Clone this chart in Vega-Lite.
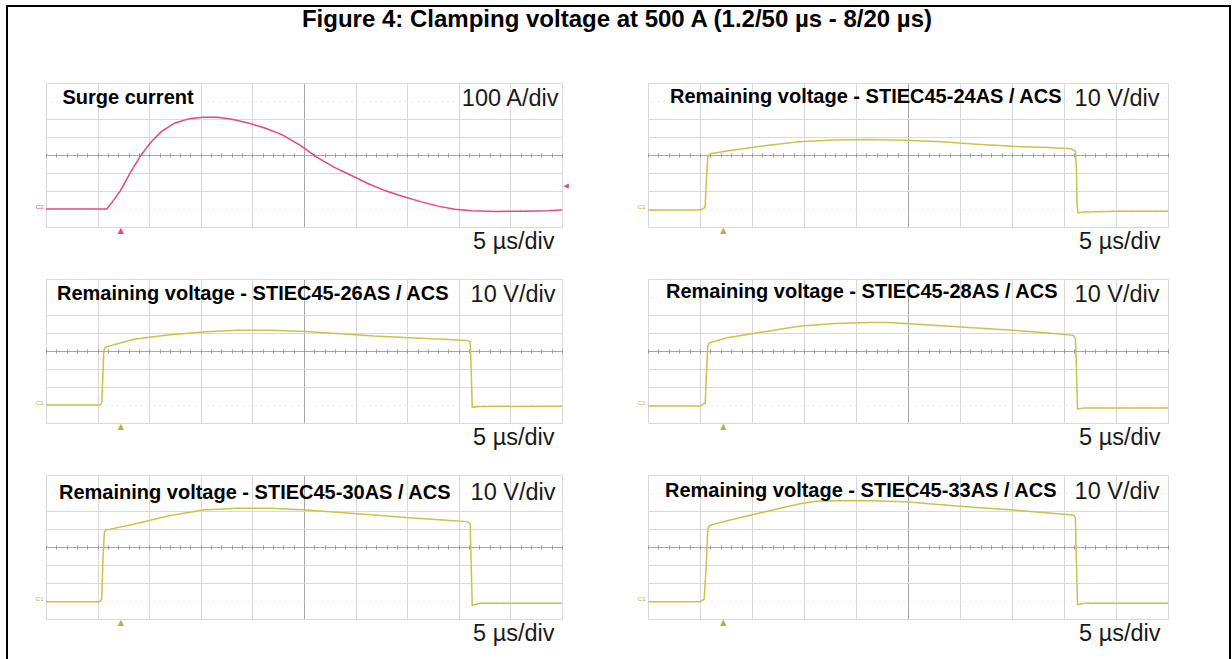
{
  "$schema": "https://vega.github.io/schema/vega-lite/v6.json",
  "background": "white",
  "padding": {"left": 6, "top": 5, "right": 0, "bottom": 0},
  "datasets": {
    "surge": [
      {"t": 0, "i": 0}, {"t": 5.9, "i": 0}, {"t": 6.5, "i": 45}, {"t": 7.2, "i": 101}, {"t": 8.2, "i": 205}, {"t": 9.2, "i": 299}, {"t": 10.2, "i": 374}, {"t": 11.2, "i": 431}, {"t": 12.5, "i": 478}, {"t": 13.9, "i": 502}, {"t": 15.2, "i": 510}, {"t": 16.6, "i": 510}, {"t": 17.9, "i": 500}, {"t": 19.6, "i": 478}, {"t": 21.2, "i": 450}, {"t": 22.9, "i": 412}, {"t": 24.6, "i": 355}, {"t": 26.2, "i": 290}, {"t": 27.9, "i": 233}, {"t": 29.6, "i": 186}, {"t": 31.3, "i": 139}, {"t": 32.9, "i": 101}, {"t": 34.6, "i": 69}, {"t": 36.3, "i": 41}, {"t": 38, "i": 16}, {"t": 39.6, "i": -2}, {"t": 41.3, "i": -10}, {"t": 43.6, "i": -14}, {"t": 46, "i": -12}, {"t": 48.7, "i": -10}, {"t": 50, "i": -6}
    ],
    "v24": [
      {"t": 0, "v": -0.5}, {"t": 5.0, "v": -0.5}, {"t": 5.4, "v": 0.5}, {"t": 5.5, "v": 1.5}, {"t": 5.6, "v": 15}, {"t": 5.75, "v": 29}, {"t": 6.0, "v": 30.7}, {"t": 7.6, "v": 32.2}, {"t": 11, "v": 35}, {"t": 14.5, "v": 37.4}, {"t": 17.9, "v": 38.4}, {"t": 21.3, "v": 38.6}, {"t": 24.8, "v": 38.2}, {"t": 28.2, "v": 37.3}, {"t": 31.6, "v": 36}, {"t": 35.1, "v": 34.8}, {"t": 38.5, "v": 34.1}, {"t": 40.7, "v": 33.5}, {"t": 41.1, "v": 32.2}, {"t": 41.2, "v": 21}, {"t": 41.25, "v": 2.5}, {"t": 41.35, "v": -2.2}, {"t": 41.9, "v": -1.6}, {"t": 45.4, "v": -1.3}, {"t": 50, "v": -1.3}
    ],
    "v26": [
      {"t": 0, "v": 0}, {"t": 5.2, "v": 0}, {"t": 5.4, "v": 1}, {"t": 5.5, "v": 15}, {"t": 5.6, "v": 30}, {"t": 5.75, "v": 32.2}, {"t": 8.5, "v": 36.5}, {"t": 11.8, "v": 38.9}, {"t": 15.2, "v": 40.5}, {"t": 18.5, "v": 41.5}, {"t": 21.8, "v": 41.5}, {"t": 25.2, "v": 40.9}, {"t": 28.5, "v": 39.6}, {"t": 31.8, "v": 38.3}, {"t": 35.2, "v": 37.4}, {"t": 38.5, "v": 36.5}, {"t": 40.8, "v": 35.9}, {"t": 41.1, "v": 35}, {"t": 41.2, "v": 20}, {"t": 41.3, "v": -1.3}, {"t": 42, "v": -0.8}, {"t": 50, "v": -0.7}
    ],
    "v28": [
      {"t": 0, "v": -0.5}, {"t": 5.0, "v": -0.5}, {"t": 5.5, "v": 1}, {"t": 5.6, "v": 15}, {"t": 5.75, "v": 33}, {"t": 5.9, "v": 34.5}, {"t": 7.6, "v": 37.4}, {"t": 11.05, "v": 40.6}, {"t": 14.5, "v": 43.8}, {"t": 17.9, "v": 45.3}, {"t": 21.35, "v": 45.8}, {"t": 23.1, "v": 45.9}, {"t": 24.8, "v": 45.3}, {"t": 28.2, "v": 44}, {"t": 31.6, "v": 42.8}, {"t": 35.1, "v": 41.5}, {"t": 38.5, "v": 40}, {"t": 40.9, "v": 38.7}, {"t": 41.1, "v": 37}, {"t": 41.2, "v": 20}, {"t": 41.3, "v": -2.2}, {"t": 42, "v": -1.6}, {"t": 50, "v": -1.6}
    ],
    "v30": [
      {"t": 0, "v": -0.4}, {"t": 5.2, "v": -0.4}, {"t": 5.4, "v": 1}, {"t": 5.5, "v": 20}, {"t": 5.65, "v": 38}, {"t": 5.8, "v": 39.4}, {"t": 8.5, "v": 42.6}, {"t": 11.8, "v": 47.2}, {"t": 15.2, "v": 50.6}, {"t": 18.5, "v": 51.5}, {"t": 21.8, "v": 51.5}, {"t": 25.2, "v": 50.6}, {"t": 28.5, "v": 49.1}, {"t": 31.8, "v": 47.8}, {"t": 35.2, "v": 46.3}, {"t": 38.5, "v": 45}, {"t": 40.8, "v": 44.1}, {"t": 41.1, "v": 43}, {"t": 41.2, "v": 20}, {"t": 41.3, "v": -2.4}, {"t": 42, "v": -1.3}, {"t": 50, "v": -1.3}
    ],
    "v33": [
      {"t": 0, "v": -0.4}, {"t": 5.0, "v": -0.4}, {"t": 5.4, "v": 1}, {"t": 5.6, "v": 20}, {"t": 5.75, "v": 40}, {"t": 5.9, "v": 41.9}, {"t": 7.6, "v": 44.6}, {"t": 11.05, "v": 49.3}, {"t": 14.5, "v": 53.9}, {"t": 16.2, "v": 55.4}, {"t": 17.9, "v": 55.7}, {"t": 21.35, "v": 55.7}, {"t": 24.8, "v": 55.2}, {"t": 28.2, "v": 53.5}, {"t": 31.6, "v": 52}, {"t": 35.1, "v": 50.6}, {"t": 38.5, "v": 48.9}, {"t": 40.9, "v": 47.8}, {"t": 41.1, "v": 46}, {"t": 41.2, "v": 20}, {"t": 41.3, "v": -2}, {"t": 42, "v": -1.3}, {"t": 50, "v": -1.3}
    ],
    "figtitle": [
      {"label": "Figure 4: Clamping voltage at 500 A (1.2/50 µs - 8/20 µs)"}
    ]
  },
  "spacing": 0,
  "vconcat": [
    {
      "width": 1225, "height": 2,
      "view": {"fill": "black", "stroke": null},
      "data": {"values": []},
      "mark": {"type": "rule", "opacity": 0},
      "encoding": {}
    },
    {
      "spacing": 27,
      "hconcat": [
        {
          "width": 2, "height": 652,
          "view": {"fill": "black", "stroke": null},
          "data": {"values": []},
          "mark": {"type": "rule", "opacity": 0},
          "encoding": {}
        },
        {
          "spacing": 58,
          "hconcat": [
            {
              "spacing": 51,
              "vconcat": [
                {
                  "width": 1122, "height": 25,
                  "data": {"name": "figtitle"},
                  "mark": {"type": "text", "font": "Liberation Sans", "fontSize": 24, "fontWeight": "bold", "color": "#000", "baseline": "middle", "align": "center", "dx": 10},
                  "encoding": {"text": {"field": "label"}}
                },
                {
                  "spacing": 26,
                  "vconcat": [
                    {
                      "spacing": 86, "bounds": "flush",
                      "hconcat": [
                        {
                          "width": 516, "height": 144,
                          "title": {"text": "Surge current", "anchor": "start", "frame": "group", "offset": -25, "dx": 16.5, "fontSize": 20, "fontWeight": "bold"},
                          "data": {"name": "surge"},
                          "resolve": {"axis": {"x": "independent", "y": "independent"}},
                          "layer": [
                            {
                              "mark": {"type": "line", "opacity": 0},
                              "encoding": {
                                "x": {"field": "t", "type": "quantitative", "scale": {"domain": [0, 50], "nice": false, "zero": false},
                                  "axis": {"orient": "top", "offset": -74, "values": [0,1,2,3,4,5,6,7,8,9,10,11,12,13,14,15,16,17,18,19,20,21,22,23,24,25,26,27,28,29,30,31,32,33,34,35,36,37,38,39,40,41,42,43,44,45,46,47,48,49,50], "grid": false, "ticks": true, "tickSize": 4, "tickColor": "#9a9a9a", "labels": false, "domain": false, "title": null}},
                                "y": {"field": "i", "type": "quantitative", "scale": {"domain": [-100, 700], "nice": false, "zero": false},
                                  "axis": {"orient": "left", "values": [0], "grid": false, "ticks": false, "domain": false, "labels": true, "labelExpr": "'C2'", "labelFont": "Liberation Sans", "labelFontSize": 6, "labelColor": "#e6477f", "labelPadding": 3, "labelBaseline": "bottom", "title": null}}
                              }
                            },
                            {
                              "mark": {"type": "line", "color": "#e6477f", "strokeWidth": 1.5},
                              "encoding": {
                                "x": {"field": "t", "type": "quantitative",
                                  "axis": {"orient": "bottom", "values": [0,5,10,15,20,25,30,35,40,45,50], "grid": true, "gridColor": {"condition": {"test": "datum.value == 25", "value": "#a8a8a8"}, "value": "#d9d9d9"}, "title": "5 µs/div", "titleX": 508, "titleY": 21, "titleAlign": "right", "titleBaseline": "alphabetic", "titleAnchor": "end"}},
                                "y": {"field": "i", "type": "quantitative",
                                  "axis": {"orient": "right", "values": [-100,0,100,200,300,400,500,600,700], "grid": true, "gridColor": {"condition": {"test": "datum.value == 300", "value": "#a8a8a8"}, "value": "#d9d9d9"}, "gridDash": {"condition": {"test": "datum.value == 0 || datum.value == 600", "value": [1, 5]}, "value": []}, "title": "100 A/div", "titleAngle": 0, "titleX": -4, "titleY": 22, "titleAlign": "right", "titleBaseline": "alphabetic"}}
                              }
                            },
                            {
                              "mark": {"type": "line", "opacity": 0},
                              "encoding": {
                                "x": {"field": "t", "type": "quantitative",
                                  "axis": {"orient": "bottom", "values": [7.2], "grid": false, "ticks": false, "domain": false, "labels": true, "labelExpr": "'▲'", "labelFont": "DejaVu Sans", "labelFontSize": 8, "labelColor": "#e6477f", "labelPadding": -1, "title": null}},
                                "y": {"field": "i", "type": "quantitative",
                                  "axis": {"orient": "right", "values": [128], "grid": false, "ticks": false, "domain": false, "labels": true, "labelExpr": "'◀'", "labelFont": "DejaVu Sans", "labelFontSize": 7, "labelColor": "#e6477f", "labelPadding": 1, "title": null}}
                              }
                            }
                          ]
                        },
                        {
                          "width": 520, "height": 144,
                          "title": {"text": "Remaining voltage - STIEC45-24AS / ACS", "anchor": "start", "frame": "group", "offset": -24, "dx": 22, "fontSize": 20, "fontWeight": "bold"},
                          "data": {"name": "v24"},
                          "resolve": {"axis": {"x": "independent", "y": "independent"}},
                          "layer": [
                            {
                              "mark": {"type": "line", "opacity": 0},
                              "encoding": {
                                "x": {"field": "t", "type": "quantitative", "scale": {"domain": [0, 50], "nice": false, "zero": false},
                                  "axis": {"orient": "top", "offset": -74, "values": [0,1,2,3,4,5,6,7,8,9,10,11,12,13,14,15,16,17,18,19,20,21,22,23,24,25,26,27,28,29,30,31,32,33,34,35,36,37,38,39,40,41,42,43,44,45,46,47,48,49,50], "grid": false, "ticks": true, "tickSize": 4, "tickColor": "#9a9a9a", "labels": false, "domain": false, "title": null}},
                                "y": {"field": "v", "type": "quantitative", "scale": {"domain": [-10, 70], "nice": false, "zero": false},
                                  "axis": {"orient": "left", "values": [0], "grid": false, "ticks": false, "domain": false, "labels": true, "labelExpr": "'C1'", "labelFont": "Liberation Sans", "labelFontSize": 6, "labelColor": "#b5b03a", "labelPadding": 3, "labelBaseline": "bottom", "title": null}}
                              }
                            },
                            {
                              "mark": {"type": "line", "color": "#c8c44a", "strokeWidth": 1.5},
                              "encoding": {
                                "x": {"field": "t", "type": "quantitative",
                                  "axis": {"orient": "bottom", "values": [0,5,10,15,20,25,30,35,40,45,50], "grid": true, "gridColor": {"condition": {"test": "datum.value == 25", "value": "#a8a8a8"}, "value": "#d9d9d9"}, "title": "5 µs/div", "titleX": 512, "titleY": 21, "titleAlign": "right", "titleBaseline": "alphabetic", "titleAnchor": "end"}},
                                "y": {"field": "v", "type": "quantitative",
                                  "axis": {"orient": "right", "values": [-10,0,10,20,30,40,50,60,70], "grid": true, "gridColor": {"condition": {"test": "datum.value == 30", "value": "#a8a8a8"}, "value": "#d9d9d9"}, "gridDash": {"condition": {"test": "datum.value == 0 || datum.value == 60", "value": [1, 5]}, "value": []}, "title": "10 V/div", "titleAngle": 0, "titleX": -9, "titleY": 22, "titleAlign": "right", "titleBaseline": "alphabetic"}}
                              }
                            },
                            {
                              "mark": {"type": "line", "opacity": 0},
                              "encoding": {
                                "x": {"field": "t", "type": "quantitative",
                                  "axis": {"orient": "bottom", "values": [7.2], "grid": false, "ticks": false, "domain": false, "labels": true, "labelExpr": "'▲'", "labelFont": "DejaVu Sans", "labelFontSize": 8, "labelColor": "#b5b03a", "labelPadding": -1, "title": null}},
                                "y": {"field": "v", "type": "quantitative", "axis": null}
                              }
                            }
                          ]
                        }
                      ]
                    },
                    {
                      "spacing": 86, "bounds": "flush",
                      "hconcat": [
                        {
                          "width": 516, "height": 144,
                          "title": {"text": "Remaining voltage - STIEC45-26AS / ACS", "anchor": "start", "frame": "group", "offset": -24.5, "dx": 11, "fontSize": 20, "fontWeight": "bold"},
                          "data": {"name": "v26"},
                          "resolve": {"axis": {"x": "independent", "y": "independent"}},
                          "layer": [
                            {
                              "mark": {"type": "line", "opacity": 0},
                              "encoding": {
                                "x": {"field": "t", "type": "quantitative", "scale": {"domain": [0, 50], "nice": false, "zero": false},
                                  "axis": {"orient": "top", "offset": -74, "values": [0,1,2,3,4,5,6,7,8,9,10,11,12,13,14,15,16,17,18,19,20,21,22,23,24,25,26,27,28,29,30,31,32,33,34,35,36,37,38,39,40,41,42,43,44,45,46,47,48,49,50], "grid": false, "ticks": true, "tickSize": 4, "tickColor": "#9a9a9a", "labels": false, "domain": false, "title": null}},
                                "y": {"field": "v", "type": "quantitative", "scale": {"domain": [-10, 70], "nice": false, "zero": false},
                                  "axis": {"orient": "left", "values": [0], "grid": false, "ticks": false, "domain": false, "labels": true, "labelExpr": "'C1'", "labelFont": "Liberation Sans", "labelFontSize": 6, "labelColor": "#b5b03a", "labelPadding": 3, "labelBaseline": "bottom", "title": null}}
                              }
                            },
                            {
                              "mark": {"type": "line", "color": "#c8c44a", "strokeWidth": 1.5},
                              "encoding": {
                                "x": {"field": "t", "type": "quantitative",
                                  "axis": {"orient": "bottom", "values": [0,5,10,15,20,25,30,35,40,45,50], "grid": true, "gridColor": {"condition": {"test": "datum.value == 25", "value": "#a8a8a8"}, "value": "#d9d9d9"}, "title": "5 µs/div", "titleX": 508, "titleY": 21, "titleAlign": "right", "titleBaseline": "alphabetic", "titleAnchor": "end"}},
                                "y": {"field": "v", "type": "quantitative",
                                  "axis": {"orient": "right", "values": [-10,0,10,20,30,40,50,60,70], "grid": true, "gridColor": {"condition": {"test": "datum.value == 30", "value": "#a8a8a8"}, "value": "#d9d9d9"}, "gridDash": {"condition": {"test": "datum.value == 0 || datum.value == 60", "value": [1, 5]}, "value": []}, "title": "10 V/div", "titleAngle": 0, "titleX": -7, "titleY": 22, "titleAlign": "right", "titleBaseline": "alphabetic"}}
                              }
                            },
                            {
                              "mark": {"type": "line", "opacity": 0},
                              "encoding": {
                                "x": {"field": "t", "type": "quantitative",
                                  "axis": {"orient": "bottom", "values": [7.2], "grid": false, "ticks": false, "domain": false, "labels": true, "labelExpr": "'▲'", "labelFont": "DejaVu Sans", "labelFontSize": 8, "labelColor": "#b5b03a", "labelPadding": -1, "title": null}},
                                "y": {"field": "v", "type": "quantitative", "axis": null}
                              }
                            }
                          ]
                        },
                        {
                          "width": 520, "height": 144,
                          "title": {"text": "Remaining voltage - STIEC45-28AS / ACS", "anchor": "start", "frame": "group", "offset": -22.5, "dx": 18, "fontSize": 20, "fontWeight": "bold"},
                          "data": {"name": "v28"},
                          "resolve": {"axis": {"x": "independent", "y": "independent"}},
                          "layer": [
                            {
                              "mark": {"type": "line", "opacity": 0},
                              "encoding": {
                                "x": {"field": "t", "type": "quantitative", "scale": {"domain": [0, 50], "nice": false, "zero": false},
                                  "axis": {"orient": "top", "offset": -74, "values": [0,1,2,3,4,5,6,7,8,9,10,11,12,13,14,15,16,17,18,19,20,21,22,23,24,25,26,27,28,29,30,31,32,33,34,35,36,37,38,39,40,41,42,43,44,45,46,47,48,49,50], "grid": false, "ticks": true, "tickSize": 4, "tickColor": "#9a9a9a", "labels": false, "domain": false, "title": null}},
                                "y": {"field": "v", "type": "quantitative", "scale": {"domain": [-10, 70], "nice": false, "zero": false},
                                  "axis": {"orient": "left", "values": [0], "grid": false, "ticks": false, "domain": false, "labels": true, "labelExpr": "'C1'", "labelFont": "Liberation Sans", "labelFontSize": 6, "labelColor": "#b5b03a", "labelPadding": 3, "labelBaseline": "bottom", "title": null}}
                              }
                            },
                            {
                              "mark": {"type": "line", "color": "#c8c44a", "strokeWidth": 1.5},
                              "encoding": {
                                "x": {"field": "t", "type": "quantitative",
                                  "axis": {"orient": "bottom", "values": [0,5,10,15,20,25,30,35,40,45,50], "grid": true, "gridColor": {"condition": {"test": "datum.value == 25", "value": "#a8a8a8"}, "value": "#d9d9d9"}, "title": "5 µs/div", "titleX": 512, "titleY": 21, "titleAlign": "right", "titleBaseline": "alphabetic", "titleAnchor": "end"}},
                                "y": {"field": "v", "type": "quantitative",
                                  "axis": {"orient": "right", "values": [-10,0,10,20,30,40,50,60,70], "grid": true, "gridColor": {"condition": {"test": "datum.value == 30", "value": "#a8a8a8"}, "value": "#d9d9d9"}, "gridDash": {"condition": {"test": "datum.value == 0 || datum.value == 60", "value": [1, 5]}, "value": []}, "title": "10 V/div", "titleAngle": 0, "titleX": -9, "titleY": 22, "titleAlign": "right", "titleBaseline": "alphabetic"}}
                              }
                            },
                            {
                              "mark": {"type": "line", "opacity": 0},
                              "encoding": {
                                "x": {"field": "t", "type": "quantitative",
                                  "axis": {"orient": "bottom", "values": [7.2], "grid": false, "ticks": false, "domain": false, "labels": true, "labelExpr": "'▲'", "labelFont": "DejaVu Sans", "labelFontSize": 8, "labelColor": "#b5b03a", "labelPadding": -1, "title": null}},
                                "y": {"field": "v", "type": "quantitative", "axis": null}
                              }
                            }
                          ]
                        }
                      ]
                    },
                    {
                      "spacing": 86, "bounds": "flush",
                      "hconcat": [
                        {
                          "width": 516, "height": 144,
                          "title": {"text": "Remaining voltage - STIEC45-30AS / ACS", "anchor": "start", "frame": "group", "offset": -28, "dx": 13, "fontSize": 20, "fontWeight": "bold"},
                          "data": {"name": "v30"},
                          "resolve": {"axis": {"x": "independent", "y": "independent"}},
                          "layer": [
                            {
                              "mark": {"type": "line", "opacity": 0},
                              "encoding": {
                                "x": {"field": "t", "type": "quantitative", "scale": {"domain": [0, 50], "nice": false, "zero": false},
                                  "axis": {"orient": "top", "offset": -74, "values": [0,1,2,3,4,5,6,7,8,9,10,11,12,13,14,15,16,17,18,19,20,21,22,23,24,25,26,27,28,29,30,31,32,33,34,35,36,37,38,39,40,41,42,43,44,45,46,47,48,49,50], "grid": false, "ticks": true, "tickSize": 4, "tickColor": "#9a9a9a", "labels": false, "domain": false, "title": null}},
                                "y": {"field": "v", "type": "quantitative", "scale": {"domain": [-10, 70], "nice": false, "zero": false},
                                  "axis": {"orient": "left", "values": [0], "grid": false, "ticks": false, "domain": false, "labels": true, "labelExpr": "'C1'", "labelFont": "Liberation Sans", "labelFontSize": 6, "labelColor": "#b5b03a", "labelPadding": 3, "labelBaseline": "bottom", "title": null}}
                              }
                            },
                            {
                              "mark": {"type": "line", "color": "#c8c44a", "strokeWidth": 1.5},
                              "encoding": {
                                "x": {"field": "t", "type": "quantitative",
                                  "axis": {"orient": "bottom", "values": [0,5,10,15,20,25,30,35,40,45,50], "grid": true, "gridColor": {"condition": {"test": "datum.value == 25", "value": "#a8a8a8"}, "value": "#d9d9d9"}, "title": "5 µs/div", "titleX": 508, "titleY": 21, "titleAlign": "right", "titleBaseline": "alphabetic", "titleAnchor": "end"}},
                                "y": {"field": "v", "type": "quantitative",
                                  "axis": {"orient": "right", "values": [-10,0,10,20,30,40,50,60,70], "grid": true, "gridColor": {"condition": {"test": "datum.value == 30", "value": "#a8a8a8"}, "value": "#d9d9d9"}, "gridDash": {"condition": {"test": "datum.value == 0 || datum.value == 60", "value": [1, 5]}, "value": []}, "title": "10 V/div", "titleAngle": 0, "titleX": -7, "titleY": 24, "titleAlign": "right", "titleBaseline": "alphabetic"}}
                              }
                            },
                            {
                              "mark": {"type": "line", "opacity": 0},
                              "encoding": {
                                "x": {"field": "t", "type": "quantitative",
                                  "axis": {"orient": "bottom", "values": [7.2], "grid": false, "ticks": false, "domain": false, "labels": true, "labelExpr": "'▲'", "labelFont": "DejaVu Sans", "labelFontSize": 8, "labelColor": "#b5b03a", "labelPadding": -1, "title": null}},
                                "y": {"field": "v", "type": "quantitative", "axis": null}
                              }
                            }
                          ]
                        },
                        {
                          "width": 520, "height": 144,
                          "title": {"text": "Remaining voltage - STIEC45-33AS / ACS", "anchor": "start", "frame": "group", "offset": -26, "dx": 17, "fontSize": 20, "fontWeight": "bold"},
                          "data": {"name": "v33"},
                          "resolve": {"axis": {"x": "independent", "y": "independent"}},
                          "layer": [
                            {
                              "mark": {"type": "line", "opacity": 0},
                              "encoding": {
                                "x": {"field": "t", "type": "quantitative", "scale": {"domain": [0, 50], "nice": false, "zero": false},
                                  "axis": {"orient": "top", "offset": -74, "values": [0,1,2,3,4,5,6,7,8,9,10,11,12,13,14,15,16,17,18,19,20,21,22,23,24,25,26,27,28,29,30,31,32,33,34,35,36,37,38,39,40,41,42,43,44,45,46,47,48,49,50], "grid": false, "ticks": true, "tickSize": 4, "tickColor": "#9a9a9a", "labels": false, "domain": false, "title": null}},
                                "y": {"field": "v", "type": "quantitative", "scale": {"domain": [-10, 70], "nice": false, "zero": false},
                                  "axis": {"orient": "left", "values": [0], "grid": false, "ticks": false, "domain": false, "labels": true, "labelExpr": "'C1'", "labelFont": "Liberation Sans", "labelFontSize": 6, "labelColor": "#b5b03a", "labelPadding": 3, "labelBaseline": "bottom", "title": null}}
                              }
                            },
                            {
                              "mark": {"type": "line", "color": "#c8c44a", "strokeWidth": 1.5},
                              "encoding": {
                                "x": {"field": "t", "type": "quantitative",
                                  "axis": {"orient": "bottom", "values": [0,5,10,15,20,25,30,35,40,45,50], "grid": true, "gridColor": {"condition": {"test": "datum.value == 25", "value": "#a8a8a8"}, "value": "#d9d9d9"}, "title": "5 µs/div", "titleX": 512, "titleY": 21, "titleAlign": "right", "titleBaseline": "alphabetic", "titleAnchor": "end"}},
                                "y": {"field": "v", "type": "quantitative",
                                  "axis": {"orient": "right", "values": [-10,0,10,20,30,40,50,60,70], "grid": true, "gridColor": {"condition": {"test": "datum.value == 30", "value": "#a8a8a8"}, "value": "#d9d9d9"}, "gridDash": {"condition": {"test": "datum.value == 0 || datum.value == 60", "value": [1, 5]}, "value": []}, "title": "10 V/div", "titleAngle": 0, "titleX": -9, "titleY": 23, "titleAlign": "right", "titleBaseline": "alphabetic"}}
                              }
                            },
                            {
                              "mark": {"type": "line", "opacity": 0},
                              "encoding": {
                                "x": {"field": "t", "type": "quantitative",
                                  "axis": {"orient": "bottom", "values": [7.2], "grid": false, "ticks": false, "domain": false, "labels": true, "labelExpr": "'▲'", "labelFont": "DejaVu Sans", "labelFontSize": 8, "labelColor": "#b5b03a", "labelPadding": -1, "title": null}},
                                "y": {"field": "v", "type": "quantitative", "axis": null}
                              }
                            }
                          ]
                        }
                      ]
                    }
                  ]
                }
              ]
            },
            {
              "width": 2, "height": 652,
              "view": {"fill": "black", "stroke": null},
              "data": {"values": []},
              "mark": {"type": "rule", "opacity": 0},
              "encoding": {}
            }
          ]
        }
      ]
    }
  ],
  "config": {
    "view": {"stroke": null},
    "axis": {"labels": false, "ticks": false, "domain": false, "titleFont": "Liberation Sans", "titleFontSize": 23.5, "titleFontWeight": "normal", "titleColor": "#1a1a1a", "gridColor": "#d9d9d9", "gridWidth": 1},
    "title": {"font": "Liberation Sans", "color": "#000"}
  }
}
